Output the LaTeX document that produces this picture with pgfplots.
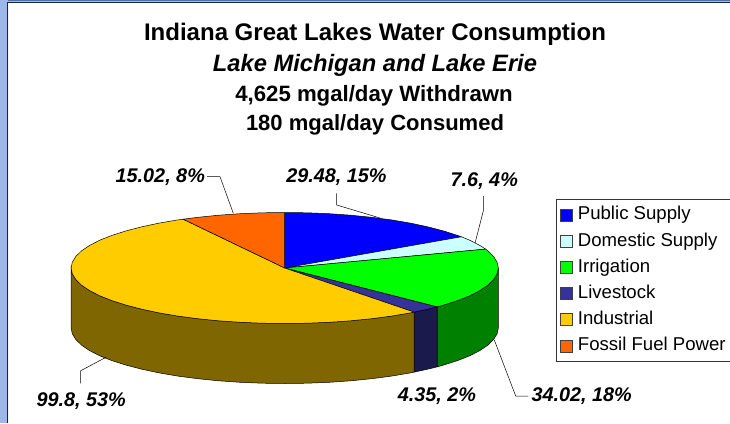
\documentclass[border=0pt]{standalone}
\usepackage{fontspec}
\setmainfont{Liberation Sans}
\usepackage{pgfplots}
\pgfplotsset{compat=1.18}

\begin{document}
\begin{tikzpicture}
\useasboundingbox (0,0) rectangle (730pt,423pt);
\begin{axis}[
	at={(0,0)}, anchor=south west,
	scale only axis, width=730pt, height=423pt,
	xmin=0, xmax=730, ymin=0, ymax=423, y dir=reverse,
	hide axis, clip=false,
	area legend,
	legend image code/.code={\draw[#1,draw=black!75,line width=0.6pt] (0pt,-6pt) rectangle (12pt,6pt);},
	legend style={at={(axis cs:556,199)}, anchor=north west, draw=black!80, line width=0.6pt,
		font=\fontsize{18.6}{18.6}\selectfont, inner xsep=4pt, inner ysep=4.6pt,
		row sep=4.2pt, cells={anchor=west},
		nodes={text height=14pt, text depth=4pt},
		/tikz/column 1/.style={column sep=3pt}},
]
% frame
\addplot[forget plot, fill={rgb,255:red,157;green,183;blue,232}, draw=none] coordinates {(0,0)(730,0)(730,2)(8,2)(8,423)(0,423)(0,0)};
\addplot[forget plot, draw={rgb,255:red,34;green,34;blue,68}, line width=1pt] coordinates {(7.5,423)(7.5,2)(730,2)};
\addplot[forget plot, draw={rgb,255:red,80;green,112;blue,176}, line width=1pt] coordinates {(8,0.7)(730,0.7)};

% sides
\addplot[forget plot, fill=green!50!black, draw=black, line width=0.5pt] coordinates {
	(498.3,268)(497.1,273.8)(493.6,279.5)(487.8,285.2)(479.8,290.6)(469.7,295.8)(457.5,300.6)(443.4,305.1)(437.1,306.9)
	(437.1,366.9)(443.4,365.1)(457.5,360.6)(469.7,355.8)(479.8,350.6)(487.8,345.2)(493.6,339.5)(497.1,333.8)(498.3,328)(498.3,268)};
\addplot[forget plot, fill={rgb,255:red,26;green,26;blue,77}, draw=black, line width=0.5pt] coordinates {
	(437.1,306.9)(427.6,309.2)(414.1,312.1)(414.1,372.1)(427.6,369.2)(437.1,366.9)(437.1,306.9)};
\addplot[forget plot, fill={rgb,255:red,128;green,102;blue,0}, draw=black, line width=0.5pt] coordinates {
	(414.1,312.1)(410.3,312.9)(391.5,316.1)(371.6,318.7)(350.7,320.8)(329.1,322.3)(307.0,323.2)(284.7,323.5)(262.4,323.2)(240.3,322.3)(218.7,320.8)(197.8,318.7)(177.9,316.1)(159.1,312.9)(141.8,309.2)(126.0,305.1)(111.9,300.6)(99.7,295.8)(89.6,290.6)(81.6,285.2)(75.8,279.5)(72.3,273.8)(71.1,268)
	(71.1,328)(72.3,333.8)(75.8,339.5)(81.6,345.2)(89.6,350.6)(99.7,355.8)(111.9,360.6)(126.0,365.1)(141.8,369.2)(159.1,372.9)(177.9,376.1)(197.8,378.7)(218.7,380.8)(240.3,382.3)(262.4,383.2)(284.7,383.5)(307.0,383.2)(329.1,382.3)(350.7,380.8)(371.6,378.7)(391.5,376.1)(410.3,372.9)(414.1,372.1)(414.1,312.1)};

% leader lines
\addplot[forget plot, black, line width=0.5pt] coordinates {(207,176.7)(220,176.7)(233.3,213.3)};
\addplot[forget plot, black, line width=0.5pt] coordinates {(336.7,193.3)(336.7,205)(380,218)};
\addplot[forget plot, black, line width=0.5pt] coordinates {(483.7,196)(483.7,209.3)(475,243.3)};
\addplot[forget plot, black, line width=0.5pt] coordinates {(528.3,396)(515.7,396)(494.3,340)};
\addplot[forget plot, black, line width=0.5pt] coordinates {(80.7,383.3)(80.7,370.7)(106,357.3)};

% top faces
\addplot[fill={rgb,255:red,0;green,0;blue,255}, draw=black, line width=0.5pt] coordinates {
	(284.7,268)(284.7,212.5)(307.0,212.8)(329.1,213.7)(350.7,215.2)(371.6,217.3)(391.5,219.9)(410.3,223.1)(427.6,226.8)(443.4,230.9)(457.5,235.4)(461.4,236.8)(284.7,268)};
\addlegendentry{Public Supply}
\addplot[fill={rgb,255:red,204;green,255;blue,255}, draw=black, line width=0.5pt] coordinates {
	(284.7,268)(461.4,236.8)(469.7,240.2)(479.8,245.4)(485.6,249.1)(284.7,268)};
\addlegendentry{Domestic Supply}
\addplot[fill={rgb,255:red,0;green,255;blue,0}, draw=black, line width=0.5pt] coordinates {
	(284.7,268)(485.6,249.1)(487.8,250.8)(493.6,256.5)(497.1,262.2)(498.3,268)(497.1,273.8)(493.6,279.5)(487.8,285.2)(479.8,290.6)(469.7,295.8)(457.5,300.6)(443.4,305.1)(437.1,306.9)(284.7,268)};
\addlegendentry{Irrigation}
\addplot[fill={rgb,255:red,51;green,51;blue,153}, draw=black, line width=0.5pt] coordinates {
	(284.7,268)(437.1,306.9)(427.6,309.2)(414.1,312.1)(284.7,268)};
\addlegendentry{Livestock}
\addplot[fill={rgb,255:red,255;green,204;blue,0}, draw=black, line width=0.5pt] coordinates {
	(284.7,268)(414.1,312.1)(410.3,312.9)(391.5,316.1)(371.6,318.7)(350.7,320.8)(329.1,322.3)(307.0,323.2)(284.7,323.5)(262.4,323.2)(240.3,322.3)(218.7,320.8)(197.8,318.7)(177.9,316.1)(159.1,312.9)(141.8,309.2)(126.0,305.1)(111.9,300.6)(99.7,295.8)(89.6,290.6)(81.6,285.2)(75.8,279.5)(72.3,273.8)(71.1,268)(72.3,262.2)(75.8,256.5)(81.6,250.8)(89.6,245.4)(99.7,240.2)(111.9,235.4)(126.0,230.9)(141.8,226.8)(159.1,223.1)(177.9,219.9)(183.1,219.2)(284.7,268)};
\addlegendentry{Industrial}
\addplot[fill={rgb,255:red,255;green,102;blue,0}, draw=black, line width=0.5pt] coordinates {
	(284.7,268)(183.1,219.2)(197.8,217.3)(218.7,215.2)(240.3,213.7)(262.4,212.8)(284.7,212.5)(284.7,268)};
\addlegendentry{Fossil Fuel Power\hspace{8pt}\null}

% title
\node[anchor=base, inner sep=0pt, font=\fontsize{24}{24}\selectfont\bfseries] at (axis cs:375,40) {Indiana Great Lakes Water Consumption};
\node[anchor=base, inner sep=0pt, font=\fontsize{23.7}{24}\selectfont\bfseries\itshape] at (axis cs:375,71.7) {Lake Michigan and Lake Erie};
\node[anchor=base, inner sep=0pt, font=\fontsize{22.2}{24}\selectfont\bfseries] at (axis cs:374,101.7) {4,625 mgal/day Withdrawn};
\node[anchor=base, inner sep=0pt, font=\fontsize{22}{24}\selectfont\bfseries] at (axis cs:375,130.7) {180 mgal/day Consumed};

% data labels
\tikzset{lab/.style={anchor=base, font=\fontsize{19.8}{20}\selectfont\bfseries\itshape, inner sep=0pt}}
\node[lab] at (axis cs:160.3,182.7) {15.02, 8\%};
\node[lab] at (axis cs:336.5,182.7) {29.48, 15\%};
\node[lab] at (axis cs:484.3,186) {7.6, 4\%};
\node[lab] at (axis cs:437,401.7) {4.35, 2\%};
\node[lab] at (axis cs:581.7,401.7) {34.02, 18\%};
\node[lab] at (axis cs:81.2,406.7) {99.8, 53\%};
\end{axis}
\end{tikzpicture}
\end{document}
